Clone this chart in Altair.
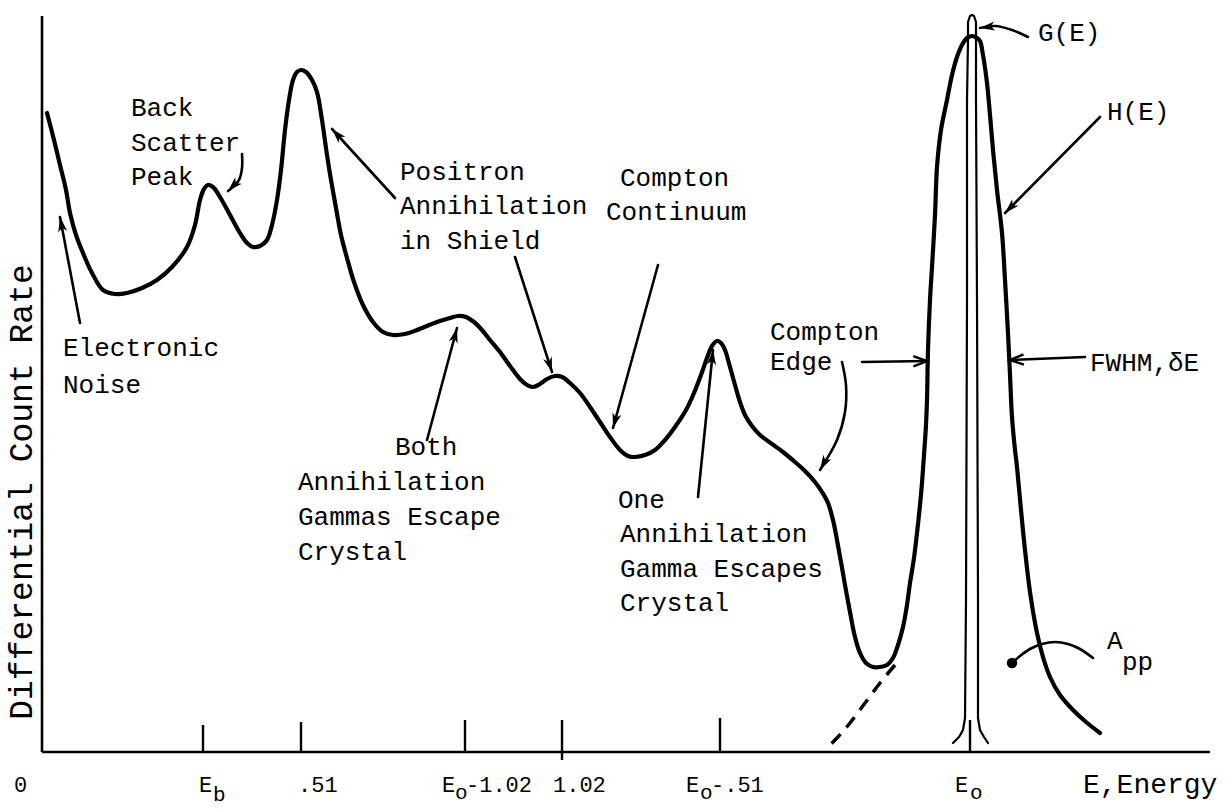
import math
import altair as alt
import pandas as pd

# ---------------- data (energy channel, count rate; arbitrary units) ----------------
curve_E = [5, 12, 18, 24, 28, 34, 41, 50, 61, 73, 85, 100, 115, 130, 145, 153, 158, 162, 166, 171,
           178, 188, 198, 205, 211, 218, 225, 230, 235, 239, 243, 247, 251, 255, 259, 264, 270, 275,
           280, 285, 289, 294, 299, 305, 312, 321, 331, 341, 351, 363, 375, 395, 408, 416, 424, 432,
           440, 448, 458, 468, 478, 485, 491, 498, 505, 513, 520, 528, 538, 548, 558, 568, 578, 586,
           593, 603, 613, 623, 633, 644, 652, 659, 665, 670, 675, 679, 683, 688, 693, 698, 703, 710,
           718, 730, 741, 753, 763, 773, 780, 786, 791, 795, 799, 803, 808, 813, 818, 824, 831, 838,
           845, 851, 856, 861, 865, 868, 872, 875, 878, 880, 882, 884, 885, 886, 888, 890, 893, 895,
           899, 905, 910, 915, 920, 925, 930, 935, 938, 941, 945, 948, 951, 955, 960, 963, 966, 968,
           970, 973, 975, 979, 983, 988, 995, 1001, 1008, 1018, 1031, 1044, 1058]
curve_C = [639, 612, 587, 562, 539, 517, 499, 479, 462, 458, 459, 464, 472, 485, 505, 527, 552, 563,
           567, 565, 555, 537, 519, 509, 505, 506, 512, 527, 552, 582, 622, 652, 672, 680, 682, 680,
           672, 660, 632, 597, 572, 544, 517, 494, 470, 447, 430, 420, 417, 418, 422, 430, 434, 436,
           435, 430, 422, 412, 400, 386, 373, 367, 365, 368, 373, 376, 375, 369, 359, 345, 330, 315,
           302, 296, 295, 297, 302, 312, 325, 342, 359, 377, 394, 406, 411, 409, 402, 385, 367, 350,
           337, 326, 317, 308, 300, 290, 281, 270, 260, 249, 232, 212, 190, 167, 140, 115, 99, 89,
           85, 85, 87, 94, 107, 125, 147, 169, 194, 219, 247, 269, 297, 327, 352, 402, 452, 485, 537,
           585, 622, 652, 677, 695, 707, 714, 716, 714, 711, 697, 669, 637, 602, 562, 519, 472, 419,
           377, 335, 302, 285, 242, 202, 160, 119, 95, 75, 57, 42, 30, 19]

# G(E): the narrow intrinsic line (outline)
g_E = [911, 917, 921, 923, 924, 925, 925, 926, 926, 928, 930, 932, 934, 934, 934, 935, 936, 936, 938, 942, 946]
g_C = [9, 15, 22, 34, 152, 452, 652, 712, 730, 736, 737, 736, 730, 712, 652, 452, 152, 34, 22, 15, 9]

# extrapolated photopeak tail (dashed)
tail_E = [853, 838, 823, 808, 793, 786]
tail_C = [87, 69, 49, 29, 12, 5]

# A_pp arc
app_E = [970, 978, 988, 1000, 1013, 1026, 1038, 1051]
app_C = [89, 96, 103, 108, 110, 108, 103, 94]

# annotation arrows (tail ... head)
arrows = {
    "noise":      ([38, 18], [429, 535]),
    "backscat":   ([200, 200, 197, 186], [598, 584, 572, 561]),
    "positron":   ([353, 290], [554, 623]),
    "shield":     ([473, 510], [495, 380]),
    "both":       ([385, 415], [312, 424]),
    "continuum":  ([616, 571], [487, 324]),
    "one":        ([656, 671], [255, 402]),
    "edge_curve": ([800, 804, 803, 795, 778], [390, 367, 340, 312, 282]),
    "g":          ([986, 970, 953, 938], [715, 722, 726, 724]),
    "h":          ([1058, 963], [635, 539]),
}
open_arrows = {
    "edge":  ([820, 885], [390, 391]),
    "fwhm":  ([1043, 968], [395, 392]),
}

# energy marks on the axis
tick_E = [161, 259, 423, 520, 678, 928]
tick_lo = [0, 0, 0, -8, 0, 0]
tick_hi = [27, 30, 32, 32, 34, 32]

# annotation texts
ann_text = ["Back", "Scatter", "Peak", "Electronic", "Noise",
            "Positron", "Annihilation", "in Shield",
            "Compton", "Continuum",
            "Both", "Annihilation", "Gammas Escape", "Crystal",
            "One", "Annihilation", "Gamma Escapes", "Crystal",
            "Compton", "Edge", "FWHM,δE", "G(E)", "H(E)", "A"]
ann_E = [89, 89, 89, 21, 21,
         358, 358, 358,
         578, 564,
         353, 256, 256, 256,
         576, 578, 578, 578,
         728, 728, 1048, 996, 1065, 1065]
ann_C = [644, 609, 575, 404, 367,
         580, 546, 511,
         574, 540,
         305, 270, 235, 200,
         252, 218, 183, 149,
         420, 390, 389, 719, 640, 111]

sub_text = ["pp"]
sub_E = [1080]
sub_C = [90]

# axis labels
lab_text = ["0", "E", ".51", "E", "-1.02", "1.02", "E", "-.51", "E"]
lab_E = [-28, 157, 256, 400, 424, 511, 644, 669, 913]
lab_C = [-33, -33, -33, -33, -33, -33, -33, -33, -33]
labsub_text = ["b", "o", "o", "o"]
labsub_E = [171, 413, 658, 928]
labsub_C = [-43, -41, -41, -41]
energy_title = "E,Energy"
ytitle = "Differential Count Rate"

FONT = "Liberation Mono"
W, H = 1168, 732
xs = alt.Scale(domain=[0, W], nice=False, zero=False)
ys = alt.Scale(domain=[0, H], nice=False, zero=False)


def X(f="E"):
    return alt.X(f"{f}:Q", scale=xs, axis=None)


def Y(f="C"):
    return alt.Y(f"{f}:Q", scale=ys, axis=None)


def line_df(E, C, name="s"):
    return pd.DataFrame({"E": E, "C": C, "i": range(len(E)), "id": name})


base_line = dict(color="black", strokeCap="round", strokeJoin="round")

curve = alt.Chart(line_df(curve_E, curve_C)).mark_line(
    strokeWidth=4.2, interpolate="catmull-rom", **base_line
).encode(x=X(), y=Y(), order="i:Q")

gline = alt.Chart(line_df(g_E, g_C)).mark_line(strokeWidth=2.2, **base_line).encode(
    x=X(), y=Y(), order="i:Q")

tail = alt.Chart(line_df(tail_E, tail_C)).mark_line(
    strokeWidth=3.5, strokeDash=[13, 9], color="black", interpolate="monotone"
).encode(x=X(), y=Y(), order="i:Q")

app_arc = alt.Chart(line_df(app_E, app_C)).mark_line(
    strokeWidth=2.6, interpolate="catmull-rom", **base_line
).encode(x=X(), y=Y(), order="i:Q")
app_dot = alt.Chart(pd.DataFrame({"E": [app_E[0]], "C": [app_C[0]]})).mark_point(
    filled=True, color="black", size=110, opacity=1).encode(x=X(), y=Y())

arr_rows, head_rows = [], []
for name, (E, C) in list(arrows.items()) + list(open_arrows.items()):
    for k, (e, c) in enumerate(zip(E, C)):
        arr_rows.append({"E": e, "C": c, "i": k, "id": name})
for name, (E, C) in arrows.items():
    ang = math.degrees(math.atan2(-(C[-1] - C[-2]), E[-1] - E[-2])) % 360
    head_rows.append({"E": E[-1], "C": C[-1], "ang": ang})
open_rows = []
for name, (E, C) in open_arrows.items():
    ang = math.degrees(math.atan2(-(C[-1] - C[-2]), E[-1] - E[-2])) % 360
    open_rows.append({"E": E[-1], "C": C[-1], "ang": ang})

arrow_lines = alt.Chart(pd.DataFrame(arr_rows)).mark_line(
    strokeWidth=2.6, interpolate="catmull-rom", **base_line
).encode(x=X(), y=Y(), order="i:Q", detail="id:N")

heads = alt.Chart(pd.DataFrame(head_rows)).mark_point(
    shape="M0,0L-2.6,-0.8L-1.9,0L-2.6,0.8Z", filled=True, color="black", size=130, opacity=1
).encode(x=X(), y=Y(), angle=alt.Angle("ang:Q", scale=None))

open_heads = alt.Chart(pd.DataFrame(open_rows)).mark_point(
    shape="M-2.4,-0.9L0,0L-2.4,0.9", filled=False, color="black", size=130, opacity=1,
    strokeWidth=2.4
).encode(x=X(), y=Y(), angle=alt.Angle("ang:Q", scale=None))

# axes
axes = alt.Chart(pd.DataFrame({"E": [0, 0], "E2": [0, W], "C": [0, 0], "C2": [736, 0]})).mark_rule(
    color="black", strokeWidth=2.6
).encode(x=X(), x2="E2:Q", y=Y(), y2="C2:Q")

ticks = alt.Chart(pd.DataFrame({"E": tick_E, "C": tick_lo, "C2": tick_hi})).mark_rule(
    color="black", strokeWidth=2.4
).encode(x=X(), y=Y(), y2="C2:Q")

ann = alt.Chart(pd.DataFrame({"E": ann_E, "C": ann_C, "t": ann_text})).mark_text(
    align="left", baseline="middle", font=FONT, fontSize=26, color="black"
).encode(x=X(), y=Y(), text="t:N")

sub = alt.Chart(pd.DataFrame({"E": sub_E, "C": sub_C, "t": sub_text})).mark_text(
    align="left", baseline="middle", font=FONT, fontSize=26, color="black"
).encode(x=X(), y=Y(), text="t:N")

labs = alt.Chart(pd.DataFrame({"E": lab_E, "C": lab_C, "t": lab_text})).mark_text(
    align="left", baseline="middle", font=FONT, fontSize=22, color="black"
).encode(x=X(), y=Y(), text="t:N")

labsubs = alt.Chart(pd.DataFrame({"E": labsub_E, "C": labsub_C, "t": labsub_text})).mark_text(
    align="left", baseline="middle", font=FONT, fontSize=21, color="black"
).encode(x=X(), y=Y(), text="t:N")

etitle = alt.Chart(pd.DataFrame({"E": [1041], "C": [-33], "t": [energy_title]})).mark_text(
    align="left", baseline="middle", font=FONT, fontSize=28, color="black"
).encode(x=X(), y=Y(), text="t:N")

yt = alt.Chart(pd.DataFrame({"E": [-20], "C": [260], "t": [ytitle]})).mark_text(
    align="center", baseline="middle", font=FONT, fontSize=33, angle=270, color="black"
).encode(x=X(), y=Y(), text="t:N")

chart = alt.layer(
    axes, ticks, curve, gline, tail, app_arc, app_dot, arrow_lines, heads, open_heads,
    ann, sub, labs, labsubs, etitle, yt
).properties(
    width=W, height=H,
    padding={"left": 42, "top": 20, "right": 16, "bottom": 58},
    autosize=alt.AutoSizeParams(type="none"),
    background="white",
).configure_view(stroke=None)

chart.save("out.html", embed_options={"renderer": "svg", "actions": False})
